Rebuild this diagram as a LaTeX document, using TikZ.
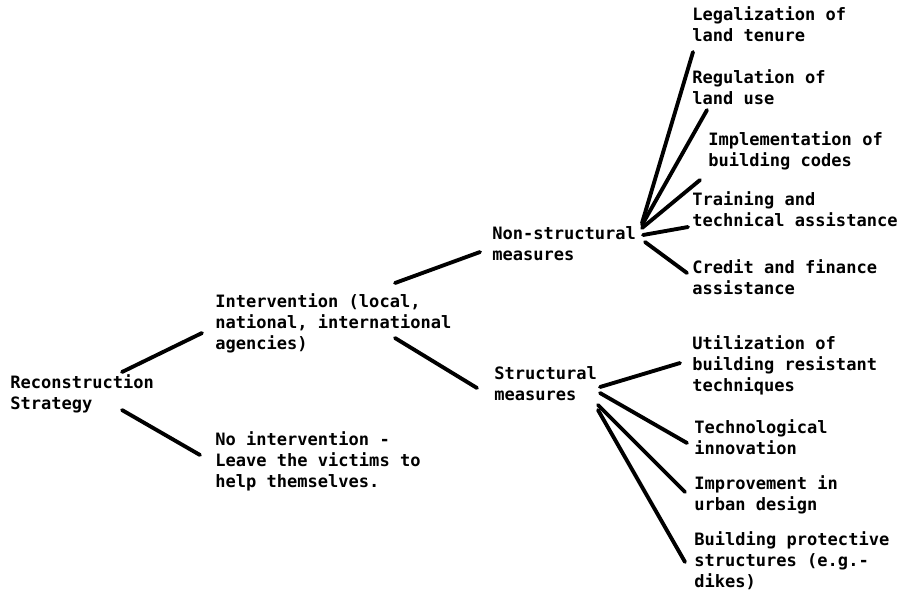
\documentclass[tikz,border=0pt]{standalone}
\usepackage{fontspec}
\setmonofont{DejaVu Sans Mono}
\tikzset{
  item/.style={anchor=north west, inner sep=0pt, align=left,
    font=\ttfamily\bfseries\fontsize{9.7}{12}\selectfont},
  branch/.style={line width=2.2pt, line cap=round}
}

\begin{document}
\begin{tikzpicture}[x=0.02cm, y=-0.02cm]
            \useasboundingbox (0,0) rectangle (902,593);

            \node[item] (recon) at (10, 374.5) {Reconstruction\\Strategy};
            \node[item] (interv) at (215, 293.5) {Intervention (local,\\national, international\\agencies)};
            \node[item] (noint) at (215, 431.5) {No intervention -\\Leave the victims to\\help themselves.};

            \node[item] (nonstr) at (492, 226.5) {Non-structural\\measures};
            \node[item] (struct) at (494, 366.5) {Structural\\measures};

            \node[item] (legal) at (692, 6.5) {Legalization of\\land tenure};
            \node[item] (regul) at (692, 69.5) {Regulation of\\land use};
            \node[item] (implem) at (708, 131.5) {Implementation of\\building codes};
            \node[item] (train) at (692, 191.5) {Training and\\technical assistance};
            \node[item] (credit) at (692, 259.5) {Credit and finance\\assistance};

            \node[item] (util) at (692, 335.5) {Utilization of\\building resistant\\techniques};
            \node[item] (techno) at (694, 419.5) {Technological\\innovation};
            \node[item] (improv) at (694, 475.5) {Improvement in\\urban design};
            \node[item] (buildp) at (694, 531.5) {Building protective\\structures (e.g.-\\dikes)};

            \draw [branch]([shift={(112,-2.5)}]recon.north west) -- ([shift={(-13,39.5)}]interv.north west);
            \draw [branch]([shift={(112,35.5)}]recon.north west) -- ([shift={(-15,23.5)}]noint.north west);

            \draw [branch]([shift={(180,-10.5)}]interv.north west) -- ([shift={(-12,25.5)}]nonstr.north west);
            \draw [branch]([shift={(180,44.5)}]interv.north west) -- ([shift={(-17,21.5)}]struct.north west);

            \draw [branch]([shift={(150,-3.5)}]nonstr.north west) -- ([shift={(1,45.5)}]legal.north west);
            \draw [branch]([shift={(150,-1.5)}]nonstr.north west) -- ([shift={(15,40.5)}]regul.north west);
            \draw [branch]([shift={(150,1.5)}]nonstr.north west) -- ([shift={(-8,48.5)}]implem.north west);
            \draw [branch]([shift={(151,8.5)}]nonstr.north west) -- ([shift={(-4,35.5)}]train.north west);
            \draw [branch]([shift={(153,15.5)}]nonstr.north west) -- ([shift={(-5,13.5)}]credit.north west);

            \draw [branch]([shift={(106,20.5)}]struct.north west) -- ([shift={(-12,27.5)}]util.north west);
            \draw [branch]([shift={(106,26.5)}]struct.north west) -- ([shift={(-7,23.5)}]techno.north west);
            \draw [branch]([shift={(104,38.5)}]struct.north west) -- ([shift={(-9,16.5)}]improv.north west);
            \draw [branch]([shift={(104,43.5)}]struct.north west) -- ([shift={(-9,30.5)}]buildp.north west);
        \end{tikzpicture}
\end{document}
